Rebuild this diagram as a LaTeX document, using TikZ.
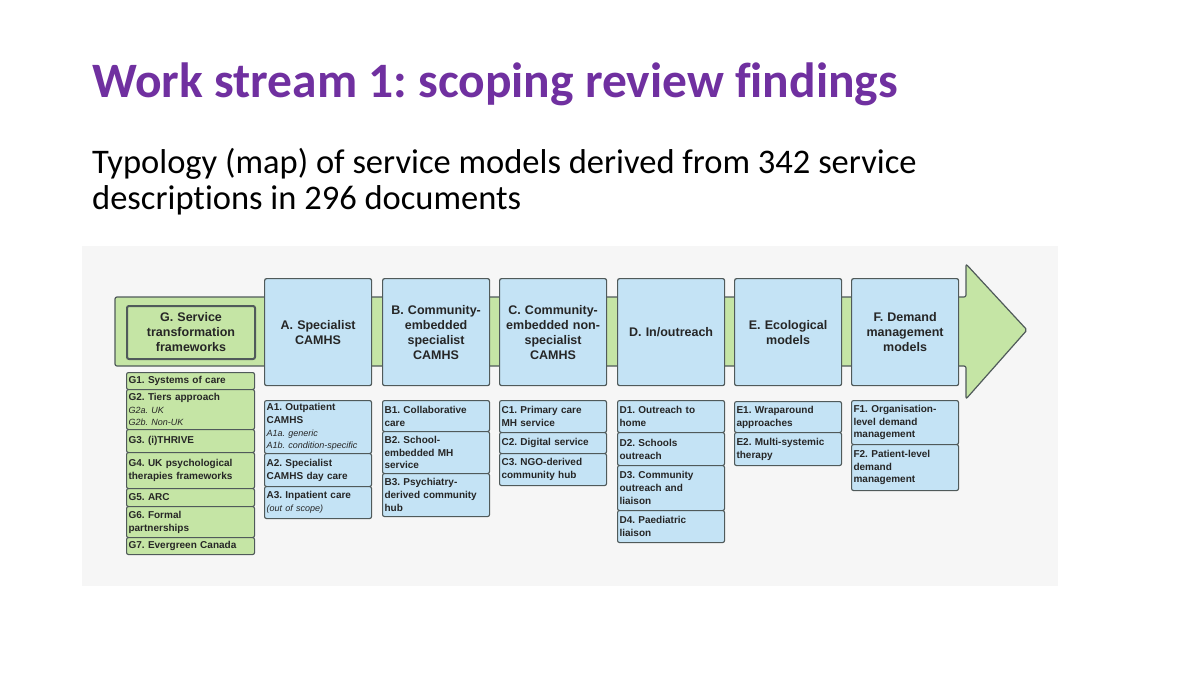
\documentclass[tikz,border=0pt]{standalone}
\usepackage{fontspec}
\setmainfont{Liberation Sans}
\newfontfamily\calfont[Ligatures=NoCommon]{Carlito}
\frenchspacing
\definecolor{ttl}{HTML}{7030A0}
\definecolor{bluef}{HTML}{C4E3F5}
\definecolor{greenf}{HTML}{C5E5A5}
\definecolor{edge}{HTML}{505A5A}
\definecolor{panel}{HTML}{F6F6F6}
\tikzset{
 hdr/.style={draw=edge,line width=1.2pt,rounded corners=2pt,fill=bluef,anchor=north west,minimum width=107pt,text width=100pt,align=center,inner sep=2pt,font=\bfseries\fontsize{12.5}{15}\selectfont,text=black!85},
 sub/.style={draw=edge,line width=1.1pt,rounded corners=2pt,fill=bluef,anchor=north west,minimum width=107pt,text width=103pt,align=left,inner sep=2pt,font=\bfseries\fontsize{10}{12.8}\selectfont,text=black!85},
 gsub/.style={sub,fill=greenf,minimum width=128pt,text width=124pt}
}
\newcommand\itl[1]{{\mdseries\itshape\fontsize{9}{11.5}\selectfont #1}}
\begin{document}
\begin{tikzpicture}[x=1pt,y=-1pt]
\useasboundingbox (0,0) rectangle (1200,675);
\fill[white] (0,0) rectangle (1200,675);
\node[anchor=base west,inner sep=0,text=ttl,font=\calfont\bfseries\fontsize{49.5}{56}\selectfont] (title) at (92,97) {Work stream 1: scoping review findings};
\node[anchor=north west,inner sep=0,align=left,font=\calfont\fontsize{34.5}{36}\selectfont] (subtitle) at (92,148) {Typology (map) of service models derived from 342 service\\descriptions in 296 documents};
\fill[panel] (82,246) rectangle (1058,586);
\draw[edge,line width=1.2pt,fill=greenf,rounded corners=2pt] (115,297) -- (966,297) -- (966,264) -- (1027,330) -- (966,399) -- (966,366) -- (115,366) -- cycle;
\node[draw=edge,line width=2pt,rounded corners=2pt,fill=greenf,anchor=north west,minimum width=128pt,minimum height=53pt,text width=120pt,align=center,inner sep=2pt,font=\bfseries\fontsize{12.5}{15}\selectfont,text=black!85] (G) at (126,305) {G. Service\\transformation\\frameworks};
\node[hdr,minimum height=107pt] (A) at (264,278) {A. Specialist\\CAMHS\\[18pt]};
\node[hdr,minimum height=107pt] (B) at (382,278) {B. Community-\\embedded\\specialist\\CAMHS\\[4pt]};
\node[hdr,minimum height=107pt] (C) at (499,278) {C. Community-\\embedded non-\\specialist\\CAMHS\\[4pt]};
\node[hdr,minimum height=107pt] (D) at (617,278) {D. In/outreach\\[24pt]};
\node[hdr,minimum height=107pt] (E) at (734,278) {E. Ecological\\models\\[18pt]};
\node[hdr,minimum height=107pt] (F) at (851,278) {F. Demand\\management\\models\\[10pt]};
% G column
\node[gsub,minimum height=17pt] (G1) at (126,372) {G1. Systems of care};
\node[gsub,minimum height=40pt] (G2) at (126,389) {G2. Tiers approach\\\itl{G2a. UK}\\\itl{G2b. Non-UK}};
\node[gsub,minimum height=23pt] (G3) at (126,429) {G3. (i)THRIVE};
\node[gsub,minimum height=36pt] (G4) at (126,452) {G4. UK psychological\\therapies frameworks};
\node[gsub,minimum height=18pt] (G5) at (126,488) {G5. ARC};
\node[gsub,minimum height=31pt] (G6) at (126,506) {G6. Formal\\partnerships};
\node[gsub,minimum height=17pt] (G7) at (126,537) {G7. Evergreen Canada};
% A
\node[sub,minimum height=53pt] (A1) at (264,400) {A1. Outpatient\\CAMHS\\\itl{A1a. generic}\\\itl{A1b. condition-specific}};
\node[sub,minimum height=33pt] (A2) at (264,453) {A2. Specialist\\CAMHS day care};
\node[sub,minimum height=32pt] (A3) at (264,486) {A3. Inpatient care\\\itl{(out of scope)}};
% B
\node[sub,minimum height=31pt] (B1) at (382,400) {B1. Collaborative\\care};
\node[sub,minimum height=42pt] (B2) at (382,431) {B2. School-\\embedded MH\\service};
\node[sub,minimum height=43pt] (B3) at (382,473) {B3. Psychiatry-\\derived community\\hub};
% C
\node[sub,minimum height=32pt] (C1) at (499,400) {C1. Primary care\\MH service};
\node[sub,minimum height=21pt] (C2) at (499,432) {C2. Digital service};
\node[sub,minimum height=32pt] (C3) at (499,453) {C3. NGO-derived\\community hub};
% D
\node[sub,minimum height=32pt] (D1) at (617,400) {D1. Outreach to\\home};
\node[sub,minimum height=33pt] (D2) at (617,432) {D2. Schools\\outreach};
\node[sub,minimum height=45pt] (D3) at (617,465) {D3. Community\\outreach and\\liaison};
\node[sub,minimum height=32pt] (D4) at (617,510) {D4. Paediatric\\liaison};
% E
\node[sub,minimum height=31pt] (E1) at (734,401) {E1. Wraparound\\approaches};
\node[sub,minimum height=33pt] (E2) at (734,432) {E2. Multi-systemic\\therapy};
% F
\node[sub,minimum height=44pt] (F1) at (851,400) {F1. Organisation-\\level demand\\management};
\node[sub,minimum height=46pt] (F2) at (851,444) {F2. Patient-level\\demand\\management};
\end{tikzpicture}
\end{document}
